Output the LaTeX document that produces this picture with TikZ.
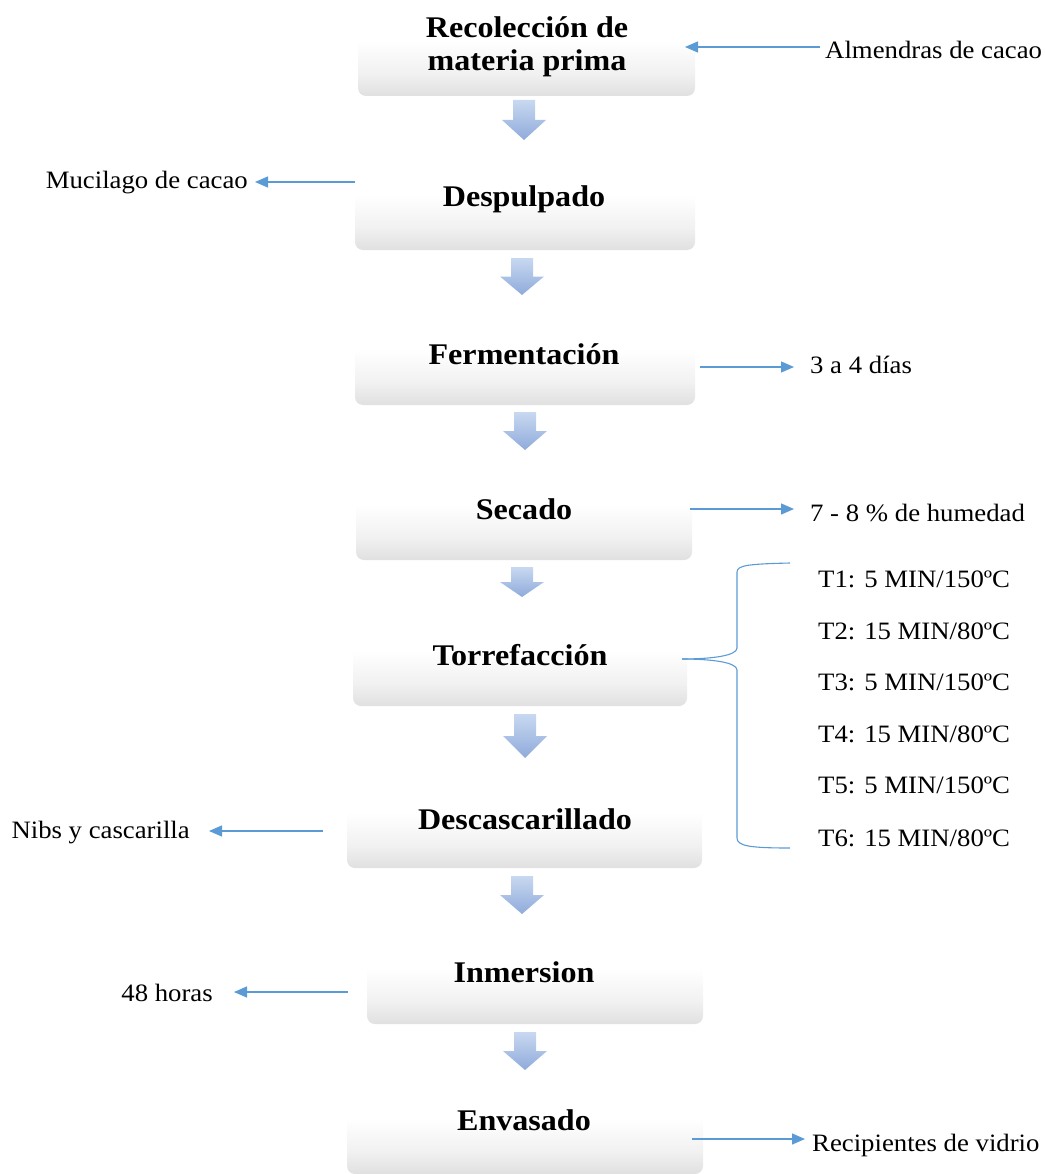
\documentclass[tikz,border=0pt]{standalone}
\usepackage{fontspec}
\setmainfont[FakeStretch=1.07]{Liberation Serif}
\usetikzlibrary{arrows.meta}
\definecolor{arrblue}{RGB}{91,155,213}
\definecolor{blkTop}{RGB}{200,216,240}
\definecolor{blkBot}{RGB}{143,171,219}
\definecolor{boxBot}{RGB}{224,224,224}
\pgfdeclareverticalshading{boxshade}{100bp}{color(0bp)=(boxBot); color(25bp)=(boxBot); color(40bp)=(boxBot!45!white); color(62bp)=(white); color(100bp)=(white)}
\newcommand{\blkarrow}[4]{% name, cx, ytop, ybot
  \path[top color=blkTop,bottom color=blkBot] (#2-11,#3) -- (#2+11,#3) -- (#2+11,{#3+0.5*(#4-#3)}) -- (#2+22,{#3+0.5*(#4-#3)}) -- (#2,#4) -- (#2-22,{#3+0.5*(#4-#3)}) -- (#2-11,{#3+0.5*(#4-#3)}) -- cycle;
  \coordinate (#1) at (#2,#3);}
\begin{document}
\begin{tikzpicture}[x=1pt,y=-1pt,
  procbox/.style={rectangle,rounded corners=8pt,minimum height=75pt,inner sep=0pt,
    shading=boxshade,draw=none},
  title/.style={font=\fontsize{30}{33}\selectfont\bfseries,align=center,inner sep=0pt},
  lbl/.style={font=\fontsize{25}{30}\selectfont,inner sep=0pt},
  side/.style={draw=arrblue,line width=1.3pt,-{Triangle[length=13pt,width=11pt]}},
  brace/.style={draw=arrblue,line width=1.1pt}]
\useasboundingbox (0,0) rectangle (1044,1174);
% process boxes
\node[procbox,minimum width=337pt] (b1) at (526.5,58.5) {};
\node[procbox,minimum width=340pt] (b2) at (525,212.5) {};
\node[procbox,minimum width=340pt] (b3) at (525,367.5) {};
\node[procbox,minimum width=336pt] (b4) at (524,522.5) {};
\node[procbox,minimum width=334pt] (b5) at (520,668.5) {};
\node[procbox,minimum width=355pt] (b6) at (524.5,830.5) {};
\node[procbox,minimum width=336pt] (b7) at (535,986.5) {};
\node[procbox,minimum width=356pt] (b8) at (525,1136.5) {};
% titles
\node[title] (t1) at (527,47) {Recolección de\\materia prima};
\node[title] (t2) at (524,199) {Despulpado};
\node[title] (t3) at (524,354) {Fermentación};
\node[title] (t4) at (524,509) {Secado};
\node[title] (t5) at (520,655) {Torrefacción};
\node[title] (t6) at (525,819) {Descascarillado};
\node[title] (t7) at (524,972) {Inmersion};
\node[title] (t8) at (524,1120) {Envasado};
% block arrows
\blkarrow{k1}{524}{100}{140}
\blkarrow{k2}{522}{258}{295}
\blkarrow{k3}{525}{412}{450}
\blkarrow{k4}{522}{567}{597}
\blkarrow{k5}{525}{714}{758}
\blkarrow{k6}{522}{876}{914}
\blkarrow{k7}{525}{1032}{1070}
% side labels
\node[lbl,anchor=west] (l1) at (825,50) {Almendras de cacao};
\node[lbl,anchor=east] (l2) at (248,183) {Mucilago de cacao};
\node[lbl,anchor=west] (l3) at (810,365) {3 a 4 días};
\node[lbl,anchor=west] (l4) at (810,513) {7 - 8 \% de humedad};
\node[lbl,anchor=east] (l6) at (190,833) {Nibs y cascarilla};
\node[lbl,anchor=east] (l7) at (213,993) {48 horas};
\node[lbl,anchor=west] (l8) at (812,1145) {Recipientes de vidrio};
% T labels
\node[lbl,anchor=west] (T1) at (818,579) {T1: 5 MIN/150ºC};
\node[lbl,anchor=west] (T2) at (818,631) {T2: 15 MIN/80ºC};
\node[lbl,anchor=west] (T3) at (818,682) {T3: 5 MIN/150ºC};
\node[lbl,anchor=west] (T4) at (818,734) {T4: 15 MIN/80ºC};
\node[lbl,anchor=west] (T5) at (818,785) {T5: 5 MIN/150ºC};
\node[lbl,anchor=west] (T6) at (818,838) {T6: 15 MIN/80ºC};
% connector end points
\coordinate (s1) at (820,47);   \coordinate (e1) at (685,47);
\coordinate (s2) at (355,182);  \coordinate (e2) at (255,182);
\coordinate (s3) at (700,367);  \coordinate (e3) at (794,367);
\coordinate (s4) at (690,509);  \coordinate (e4) at (794,509);
\coordinate (s6) at (323,831);  \coordinate (e6) at (209,831);
\coordinate (s7) at (348,992);  \coordinate (e7) at (234,992);
\coordinate (s8) at (692,1139); \coordinate (e8) at (805,1139);
\draw[side] (s1) -- (e1);
\draw[side] (s2) -- (e2);
\draw[side] (s3) -- (e3);
\draw[side] (s4) -- (e4);
\draw[side] (s6) -- (e6);
\draw[side] (s7) -- (e7);
\draw[side] (s8) -- (e8);
% brace
\coordinate (btip) at (682,659);
\coordinate (btop) at (790,563);
\coordinate (bbot) at (790,848);
\draw[brace] (btop) .. controls (750,564) and (737,565) .. (737,572)
  -- (737,648) .. controls (737,656) and (710,659) .. (btip);
\draw[brace] (btip) .. controls (710,659) and (737,662) .. (737,670)
  -- (737,838) .. controls (737,846) and (750,848) .. (bbot);
\end{tikzpicture}
\end{document}
